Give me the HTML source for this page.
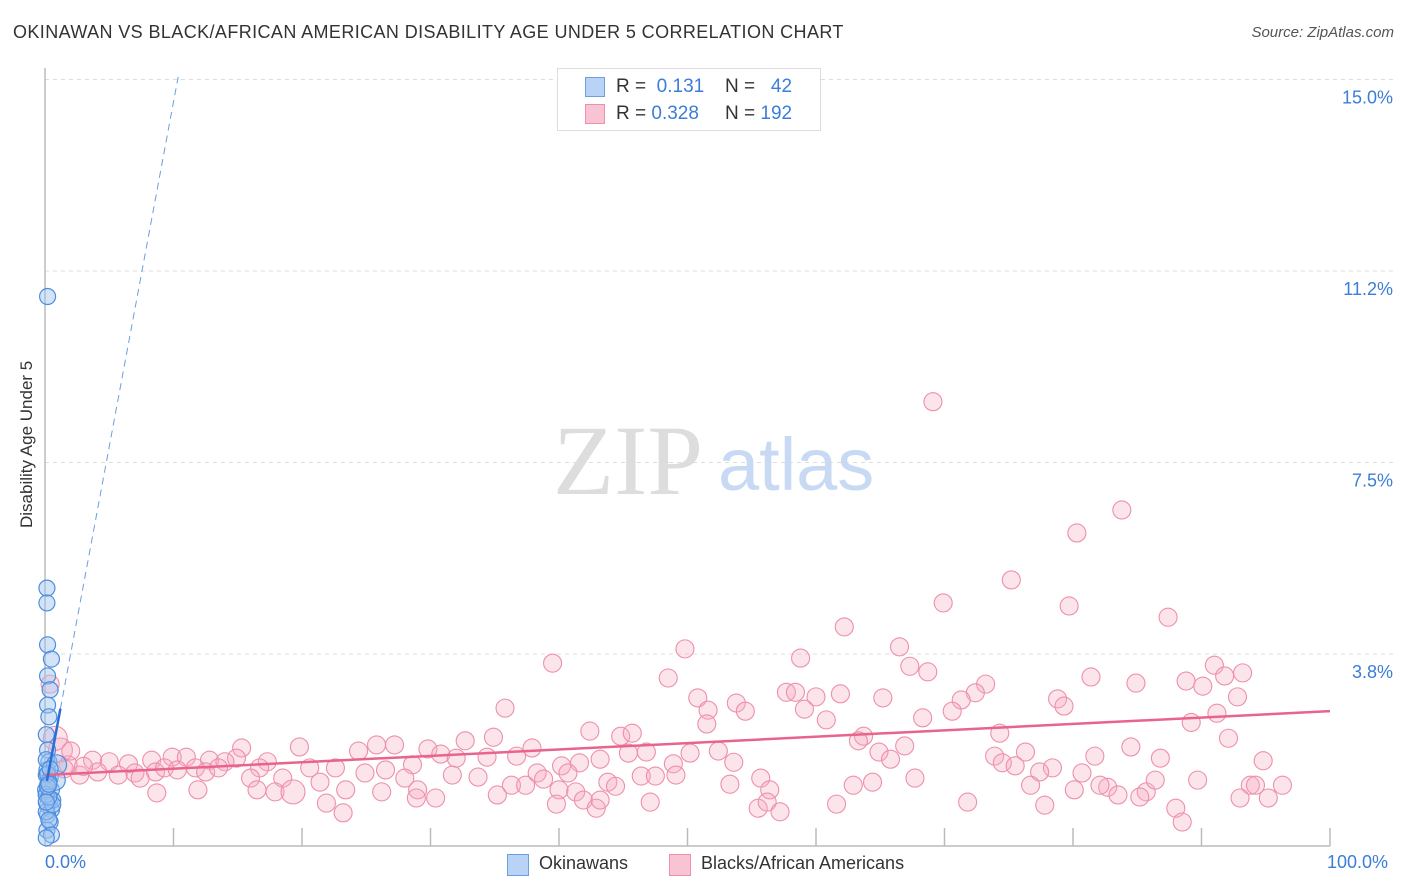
<!DOCTYPE html>
<html><head><meta charset="utf-8">
<style>
body{margin:0;background:#fff;font-family:"Liberation Sans",sans-serif;}
#wrap{position:relative;width:1406px;height:892px;overflow:hidden;}
.t{position:absolute;white-space:nowrap;}
</style></head>
<body>
<div id="wrap">
<div class="t" style="left:13px;top:22px;font-size:18px;letter-spacing:0.4px;color:#333;">OKINAWAN VS BLACK/AFRICAN AMERICAN DISABILITY AGE UNDER 5 CORRELATION CHART</div>
<div class="t" style="right:12px;top:24px;font-size:15px;color:#555;font-style:italic;">Source: ZipAtlas.com</div>
<svg id="chart" width="1406" height="892" style="position:absolute;left:0;top:0"></svg>
</div>
<script>
const yTicks=[3.75,7.5,11.25,15];
const yTickLabels=["3.8%","7.5%","11.2%","15.0%"];
const blueX=[0.2,0.15,0.15,0.2,0.5,0.2,0.4,0.2,0.3,0.1,0.2,0.3,0.15,0.4,0.2,0.5,0.1,0.4,0.2,0.5,0.2,0.4,0.15,0.5,0.1,0.1,0.1,0.8,0.6,0.1,0.9,0.3,0.05,0.6,0.3,0.1,0.2,0.4,0.3,0.2,0.1,0.3];
const blueY=[10.75,5.04,4.75,3.93,3.65,3.32,3.05,2.75,2.52,2.17,1.87,1.64,1.48,1.32,1.18,1.09,0.99,0.89,0.79,0.70,0.60,0.46,0.30,0.21,0.15,1.68,1.38,1.28,0.89,0.66,1.58,0.50,1.09,0.80,1.25,1.00,1.40,1.50,0.95,1.15,0.85,1.20];
const pinkX=[69.1,83.8,80.3,75.2,79.7,69.9,87.4,62.2,66.5,49.8,39.5,58.8,67.3,68.7,91.0,93.2,91.8,81.4,84.9,88.8,90.1,73.2,48.5,57.7,58.4,60.0,61.9,65.2,72.4,50.8,78.8,92.8,79.3,71.3,51.6,53.8,54.5,59.1,70.6,68.3,91.2,35.8,60.8,51.5,89.2,42.4,44.8,45.7,63.7,63.3,74.3,92.1,34.9,27.2,25.8,32.7,66.9,84.5,19.8,15.3,24.4,29.8,37.9,46.8,52.4,50.2,64.9,76.3,81.7,86.8,94.8,73.9,45.4,30.8,32.0,34.4,36.7,41.6,43.2,40.2,74.5,78.4,75.5,77.4,80.7,65.8,53.6,48.9,28.6,17.3,16.7,14.9,9.9,11.0,12.8,14.0,8.3,6.5,5.0,3.7,1.8,1.2,0.8,4.1,2.7,5.7,7.0,7.4,8.6,9.3,10.3,11.7,12.5,13.5,16.0,18.5,20.6,21.4,22.6,23.4,24.9,26.5,28.0,29.0,31.7,33.7,36.3,37.4,38.3,38.8,40.7,40.0,41.3,43.8,44.4,46.4,47.5,49.1,53.3,55.7,56.4,62.9,64.4,67.7,82.7,82.1,83.5,85.7,86.4,89.7,93.8,94.2,96.3,95.2,76.7,80.1,8.7,11.9,16.5,17.9,19.3,21.9,23.2,26.2,28.9,30.4,35.2,39.8,41.9,42.9,43.2,47.1,55.5,56.2,57.2,61.6,71.8,77.8,85.2,88.0,88.5,93.0,0.4,2.0,3.0,1.5];
const pinkY=[8.69,6.57,6.12,5.20,4.69,4.75,4.47,4.28,3.89,3.85,3.57,3.67,3.51,3.40,3.53,3.38,3.32,3.30,3.18,3.22,3.12,3.16,3.28,3.00,3.00,2.91,2.97,2.89,2.99,2.89,2.87,2.91,2.73,2.85,2.65,2.79,2.63,2.67,2.63,2.50,2.59,2.69,2.46,2.38,2.41,2.24,2.14,2.20,2.14,2.05,2.20,2.10,2.12,1.97,1.97,2.05,1.95,1.93,1.93,1.91,1.85,1.89,1.91,1.83,1.85,1.81,1.83,1.83,1.75,1.71,1.66,1.75,1.81,1.79,1.71,1.73,1.75,1.62,1.69,1.56,1.62,1.52,1.56,1.44,1.42,1.69,1.63,1.60,1.58,1.64,1.52,1.71,1.73,1.73,1.67,1.64,1.67,1.60,1.64,1.67,1.58,1.87,2.10,1.44,1.38,1.38,1.42,1.32,1.44,1.52,1.48,1.52,1.44,1.52,1.32,1.32,1.52,1.24,1.52,1.09,1.42,1.48,1.32,1.09,1.38,1.34,1.18,1.18,1.42,1.30,1.42,1.09,1.05,1.24,1.16,1.36,1.36,1.38,1.20,1.32,1.09,1.18,1.24,1.32,1.14,1.18,0.99,1.05,1.28,1.28,1.18,1.18,1.18,0.93,1.18,1.09,1.03,1.09,1.09,1.05,1.05,0.83,0.64,1.05,0.93,0.93,0.99,0.81,0.89,0.73,0.89,0.85,0.73,0.85,0.66,0.81,0.85,0.79,0.95,0.73,0.46,0.93,3.16,1.85,1.55,1.50];
const pinkTrend=[1.38,2.63];
const blueTrend=[1.06,1.35];
const NS="http://www.w3.org/2000/svg";
const svg=document.getElementById('chart');
const X0=45,X1=1330,Y0=845.5,YPX=51.07;
const sx=v=>X0+v*(X1-X0)/100, sy=v=>Y0-v*YPX;
function mk(t,a){const e=document.createElementNS(NS,t);for(const k in a)e.setAttribute(k,a[k]);svg.appendChild(e);return e;}
yTicks.forEach((v,i)=>{
  const g=mk('line',{x1:X0,x2:1395,y1:sy(v),y2:sy(v),stroke:'#ddd','stroke-dasharray':'4,4'});
  
  
  const t=mk('text',{x:1393,y:sy(v)+24,'text-anchor':'end','font-size':18,fill:'#3b7dd8','font-family':'Liberation Sans, sans-serif'});
  t.textContent=yTickLabels[i];
  
  
});
let a=mk('line',{x1:X0,x2:X0,y1:68,y2:846,stroke:'#bbb','stroke-width':1.5});


a=mk('line',{x1:X0,x2:X1,y1:846,y2:846,stroke:'#bbb','stroke-width':1.5});


for(let i=1;i<=10;i++){const t=mk('line',{x1:sx(i*10),x2:sx(i*10),y1:828,y2:846,stroke:'#bbb','stroke-width':1.5});

}
let w=mk('text',{x:553,y:494,'font-size':100,fill:'#ddd','font-family':'Liberation Serif, serif'});w.textContent='ZIP';


w=mk('text',{x:718,y:490,'font-size':74,fill:'#c8daf3','font-family':'Liberation Sans, sans-serif'});w.textContent='atlas';


pinkX.forEach((x,i)=>{const c=mk('circle',{cx:sx(x),cy:sy(pinkY[i]),r:(i===101||i===102||i===160)?12:9,fill:'rgba(246,170,192,0.32)',stroke:'#ee8fab','stroke-width':1.1});

});
blueX.forEach((x,i)=>{const c=mk('circle',{cx:sx(x),cy:sy(blueY[i]),r:(i===27||i===30)?10:8,fill:'rgba(160,195,240,0.45)',stroke:'#4d8ee0','stroke-width':1.2});

});
let l=mk('line',{x1:sx(0),y1:sy(pinkTrend[0]),x2:sx(100),y2:sy(pinkTrend[1]),stroke:'#e8648c','stroke-width':2.5});


const bx=v=>blueTrend[0]+blueTrend[1]*v;
l=mk('line',{x1:sx(1.2),y1:sy(bx(1.2)),x2:sx((15.05-blueTrend[0])/blueTrend[1]),y2:sy(15.05),stroke:'#6a9fe0','stroke-width':1,'stroke-dasharray':'7,5'});


l=mk('line',{x1:sx(0.15),y1:sy(bx(0.15)),x2:sx(1.2),y2:sy(bx(1.2)),stroke:'#2a6fd6','stroke-width':2.5});


</script>
<div class="t" style="left:45px;top:852px;font-size:18px;color:#3b7dd8;">0.0%</div>
<div class="t" style="left:1327px;top:852px;font-size:18px;color:#3b7dd8;">100.0%</div>
<div class="t" style="left:-48px;top:443px;font-size:17px;color:#333;transform:rotate(-90deg);width:150px;text-align:center;">Disability Age Under 5</div>
<div style="position:absolute;left:557px;top:68px;width:262px;height:61px;border:1px solid #ddd;background:#fff;font-size:19px;color:#333;">
 <div style="position:absolute;left:27px;top:7px;width:230px;height:22px;">
  <span style="position:absolute;left:0;top:1px;width:18px;height:18px;background:#b9d3f6;border:1px solid #6a9fe0;"></span>
  <span class="t" style="left:31px;top:0">R = <span style="color:#3b7dd8">&nbsp;0.131</span></span>
  <span class="t" style="left:140px;top:0">N = <span style="color:#3b7dd8">&nbsp;&nbsp;42</span></span>
 </div>
 <div style="position:absolute;left:27px;top:34px;width:230px;height:22px;">
  <span style="position:absolute;left:0;top:1px;width:18px;height:18px;background:#f8c3d3;border:1px solid #ee8fab;"></span>
  <span class="t" style="left:31px;top:0">R = <span style="color:#3b7dd8">0.328</span></span>
  <span class="t" style="left:140px;top:0">N = <span style="color:#3b7dd8">192</span></span>
 </div>
</div>
<div style="position:absolute;left:507px;top:853px;font-size:18px;color:#333;">
 <span style="position:absolute;left:0;top:1px;width:20px;height:20px;background:#b9d3f6;border:1px solid #6a9fe0;"></span>
 <span class="t" style="left:32px;top:0">Okinawans</span>
 <span style="position:absolute;left:162px;top:1px;width:20px;height:20px;background:#f8c3d3;border:1px solid #ee8fab;"></span>
 <span class="t" style="left:194px;top:0">Blacks/African Americans</span>
</div>
</body></html>
